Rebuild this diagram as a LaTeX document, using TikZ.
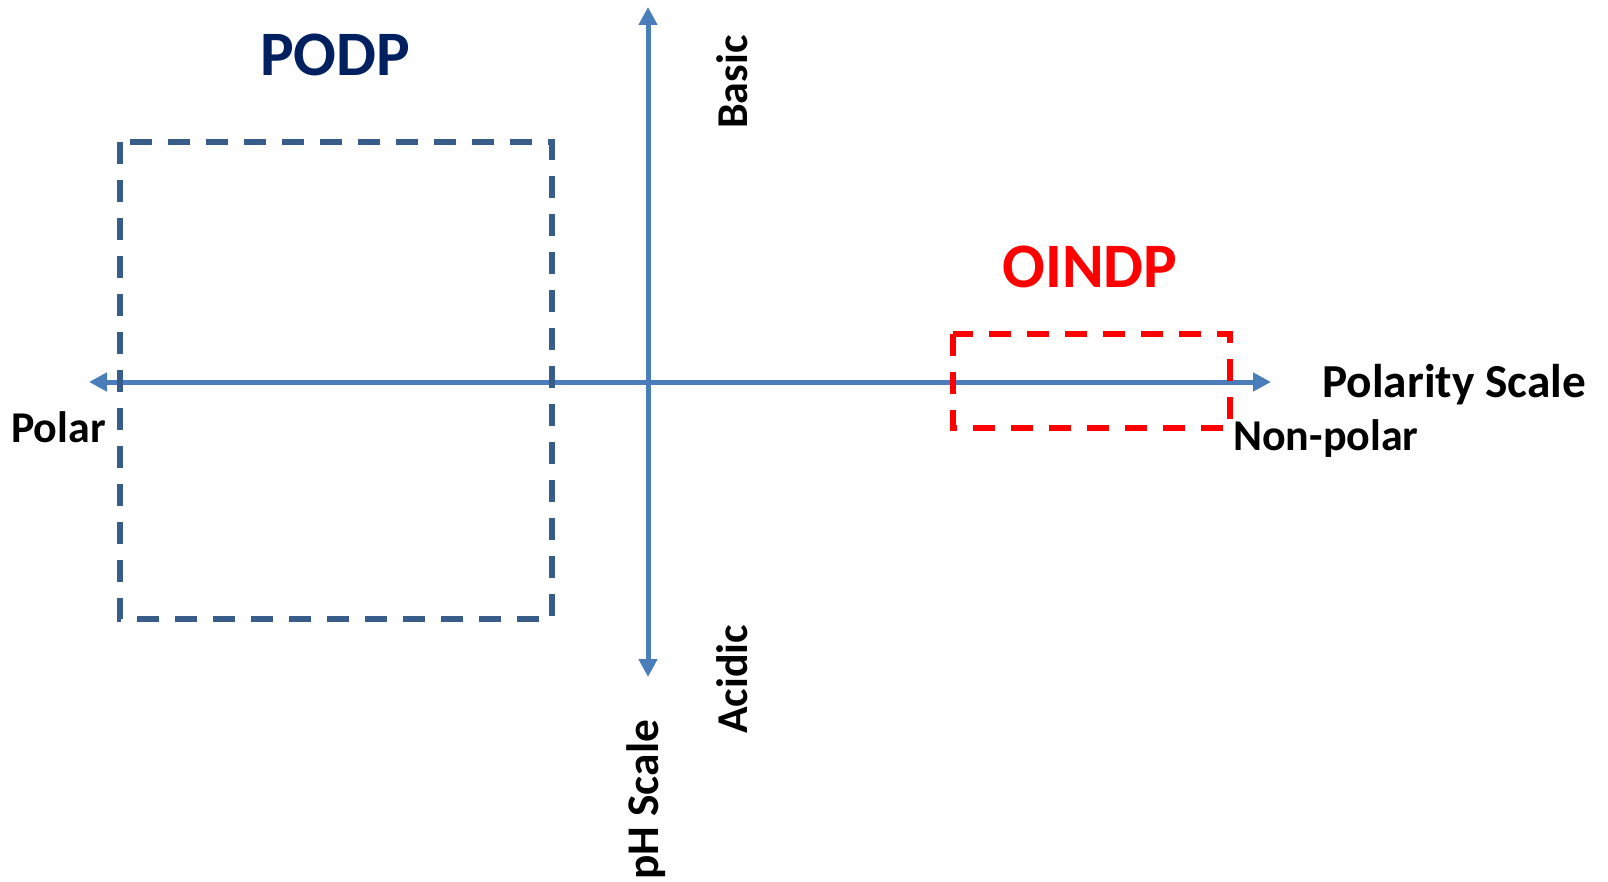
\documentclass[tikz,border=0pt]{standalone}
\usepackage{fontspec}
\setmainfont{Carlito}
\usetikzlibrary{arrows.meta}
\definecolor{axisblue}{HTML}{4A7EBB}
\definecolor{boxblue}{HTML}{385D8A}
\definecolor{navy}{HTML}{002060}
\definecolor{pureRed}{HTML}{FF0000}
\begin{document}
\begin{tikzpicture}[x=0.75pt,y=-0.75pt,
  axis/.style={draw=axisblue,line width=3.75pt,{Triangle[width=13.5pt,length=13.5pt]}-{Triangle[width=13.5pt,length=13.5pt]}},
  dashbox/.style={line width=4pt,dash pattern=on 16.5pt off 12pt},
  lbl/.style={inner sep=0pt,font=\fontsize{33}{40}\selectfont\bfseries,text=black},
  title/.style={inner sep=0pt,font=\fontsize{47.5}{54}\selectfont\bfseries}]
\useasboundingbox (0,0) rectangle (1608,881);
% axes
\coordinate (W) at (89,382);
\coordinate (E) at (1271,382);
\coordinate (N) at (648,7);
\coordinate (S) at (648,677);
\draw[axis] (W) -- (E);
\draw[axis] (S) -- (N);
% boxes
\coordinate (podpA) at (120,142);
\coordinate (podpB) at (552,619);
\coordinate (oindpA) at (953,334);
\coordinate (oindpB) at (1230,428);
\draw[dashbox,draw=boxblue] (podpA) rectangle (podpB);
\draw[dashbox,draw=pureRed] (oindpA) rectangle (oindpB);
% titles
\node[title,text=navy,anchor=base west] (podp) at (260,75) {PODP};
\node[title,text=pureRed,anchor=base west] (oindp) at (1002,287) {OINDP};
% labels
\node[lbl,anchor=base west] (polar) at (11,442) {Polar};
\node[lbl,anchor=base west] (nonpolar) at (1233,450) {Non-polar};
\node[lbl,anchor=base west,font=\fontsize{35.5}{40}\selectfont\bfseries] (polscale) at (1322,397) {Polarity Scale};
\node[lbl,anchor=base west,rotate=90] (basic) at (747,129) {Basic};
\node[lbl,anchor=base west,rotate=90] (acidic) at (747,734) {Acidic};
\node[lbl,anchor=base west,rotate=90,font=\fontsize{34}{40}\selectfont\bfseries] (phscale) at (658,880) {pH Scale};
\end{tikzpicture}
\end{document}
